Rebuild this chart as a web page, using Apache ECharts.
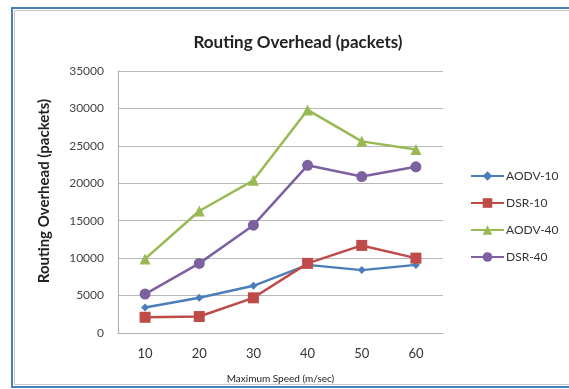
<!DOCTYPE html>
<html>
<head>
<meta charset="utf-8">
<style>
  html, body { margin: 0; padding: 0; background: #ffffff; }
  #chart { width: 569px; height: 389px; }
</style>
<script src="https://cdn.jsdelivr.net/npm/echarts@6/dist/echarts.min.js"></script>
</head>
<body>
<div id="chart"></div>
<script>
// Maximum speed (m/sec) on the category axis
const speeds = ['10', '20', '30', '40', '50', '60'];

// Routing overhead in packets for each protocol / node setting
const aodv10 = [3400, 4700, 6300, 9100, 8400, 9100];
const dsr10  = [2100, 2200, 4700, 9300, 11700, 10000];
const aodv40 = [9900, 16300, 20400, 29800, 25600, 24500];
const dsr40  = [5200, 9300, 14400, 22400, 20900, 22200];

const seriesNames = ['AODV-10', 'DSR-10', 'AODV-40', 'DSR-40'];
const seriesData = [aodv10, dsr10, aodv40, dsr40];
const seriesColors = ['#4a7ebb', '#be4b48', '#98b954', '#7d60a0'];
const seriesSymbols = ['diamond', 'rect', 'triangle', 'circle'];
const symbolSizes = [8, 11, 11, 11];

const font = 'Lato, "Open Sans", sans-serif';

const chart = echarts.init(document.getElementById('chart'), null, { renderer: 'canvas' });

chart.setOption({
  animation: false,
  backgroundColor: '#ffffff',
  textStyle: { fontFamily: font },
  title: {
    text: 'Routing Overhead (packets)',
    left: 293,
    textAlign: 'center',
    top: 29,
    textStyle: { fontFamily: font, fontSize: 17, fontWeight: 'bold', color: '#222' }
  },
  graphic: [
    {
      type: 'rect',
      shape: { x: 12, y: 8, width: 600, height: 379 },
      style: { fill: 'none', stroke: '#4a7ebb', lineWidth: 2 },
      silent: true
    },
    {
      type: 'rect',
      shape: { x: 14.5, y: 10.5, width: 600, height: 374 },
      style: { fill: 'none', stroke: '#c8c8c8', lineWidth: 1 },
      silent: true
    }
  ],
  legend: {
    orient: 'vertical',
    left: 465,
    top: 165,
    itemWidth: 33,
    itemHeight: 12,
    itemGap: 15,
    data: seriesNames,
    textStyle: { fontFamily: font, fontSize: 12, color: '#333', padding: [0, 0, 0, -3] }
  },
  grid: {
    left: 118,
    right: 126,
    top: 71,
    bottom: 56
  },
  xAxis: {
    type: 'category',
    data: speeds,
    boundaryGap: true,
    name: 'Maximum Speed (m/sec)',
    nameLocation: 'middle',
    nameGap: 41,
    nameTextStyle: { fontFamily: font, fontSize: 10, color: '#222' },
    axisLine: { lineStyle: { color: '#b0b0b0', width: 1 } },
    axisTick: { show: false },
    axisLabel: { fontFamily: font, fontSize: 13, color: '#333', margin: 14 }
  },
  yAxis: {
    type: 'value',
    min: 0,
    max: 35000,
    interval: 5000,
    name: 'Routing Overhead (packets)',
    nameLocation: 'middle',
    nameRotate: 90,
    nameGap: 66,
    nameTextStyle: {
      fontFamily: font, fontSize: 15, fontWeight: 'bold', color: '#222',
      padding: [0, 0, 0, 22]
    },
    axisLine: { show: true, lineStyle: { color: '#b0b0b0', width: 1 } },
    axisTick: { show: false },
    axisLabel: {
      fontFamily: font, fontSize: 12, color: '#444', margin: 14,
      formatter: (v) => String(v)
    },
    splitLine: { lineStyle: { color: '#b8b8b8', width: 1 } }
  },
  series: seriesNames.map((name, i) => ({
    name: name,
    type: 'line',
    data: seriesData[i],
    symbol: seriesSymbols[i],
    symbolSize: symbolSizes[i],
    showAllSymbol: true,
    itemStyle: { color: seriesColors[i] },
    lineStyle: { color: seriesColors[i], width: 2.5 },
    z: 2 + i
  }))
});
</script>
</body>
</html>
